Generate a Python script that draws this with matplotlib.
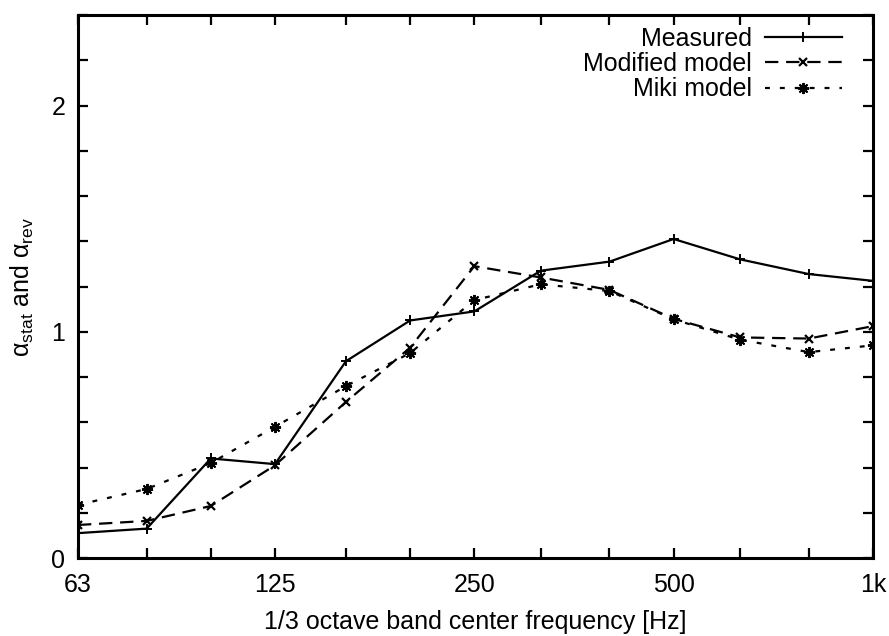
import matplotlib
matplotlib.use("Agg")
import matplotlib.pyplot as plt
from matplotlib.ticker import FixedLocator, NullFormatter, MultipleLocator

plt.rcParams['font.family'] = ['Liberation Sans', 'DejaVu Sans']
plt.rcParams['mathtext.fontset'] = 'custom'
plt.rcParams['mathtext.rm'] = 'Liberation Sans'
plt.rcParams['mathtext.it'] = 'Liberation Sans'

freqs = [63, 80, 100, 125, 160, 200, 250, 315, 400, 500, 630, 800, 1000]
measured = [0.11, 0.13, 0.44, 0.415, 0.87, 1.05, 1.09, 1.27, 1.31, 1.41, 1.32, 1.255, 1.225]
modified = [0.146, 0.164, 0.23, 0.41, 0.69, 0.93, 1.29, 1.24, 1.185, 1.057, 0.975, 0.97, 1.025]
miki = [0.235, 0.305, 0.42, 0.58, 0.76, 0.906, 1.14, 1.21, 1.18, 1.055, 0.965, 0.91, 0.94]

major_freqs = [63, 125, 250, 500, 1000]
major_labels = ['63', '125', '250', '500', '1k']

fs = 18

fig = plt.figure(figsize=(8.89, 6.36), dpi=100)
ax = fig.add_axes([0.0877, 0.1226, 0.8943, 0.8538])

ax.plot(freqs, measured, color='black', lw=1.6, linestyle='-',
        marker='+', markersize=7, markeredgewidth=1.4, label='Measured')
ax.plot(freqs, modified, color='black', lw=1.6, linestyle=(0, (6, 3.5)),
        marker='x', markersize=6, markeredgewidth=1.6, label='Modified model')
ax.plot(freqs, miki, color='black', lw=1.6, linestyle=(0, (2.2, 4.5)),
        marker=(8, 2, 0), markersize=8, markeredgewidth=1.4, label='Miki model')

ax.set_xscale('log')
ax.set_xlim(63, 1000)
ax.set_ylim(0, 2.4)
ax.xaxis.set_major_locator(FixedLocator(major_freqs))
ax.set_xticklabels(major_labels)
ax.xaxis.set_minor_locator(FixedLocator([f for f in freqs if f not in major_freqs]))
ax.xaxis.set_minor_formatter(NullFormatter())
ax.yaxis.set_major_locator(MultipleLocator(1))
ax.yaxis.set_minor_locator(MultipleLocator(0.2))

ax.tick_params(which='both', direction='in', top=True, right=True,
               length=7, width=1.6, labelsize=fs)
ax.tick_params(axis='y', which='both', pad=9)
ax.tick_params(axis='x', which='both', pad=11)
for s in ax.spines.values():
    s.set_linewidth(2.2)

ax.set_xlabel('1/3 octave band center frequency [Hz]', fontsize=fs, labelpad=9)
ax.set_ylabel(r'α$_{\mathrm{stat}}$ and α$_{\mathrm{rev}}$', fontsize=fs, labelpad=11)

leg = ax.legend(loc='upper right', frameon=False, markerfirst=False, fontsize=fs,
                handlelength=3.1, labelspacing=0.05, handletextpad=0.5,
                borderaxespad=0.2, bbox_to_anchor=(0.98, 1.006))

plt.savefig('out.png', dpi=100)
plt.close(fig)
